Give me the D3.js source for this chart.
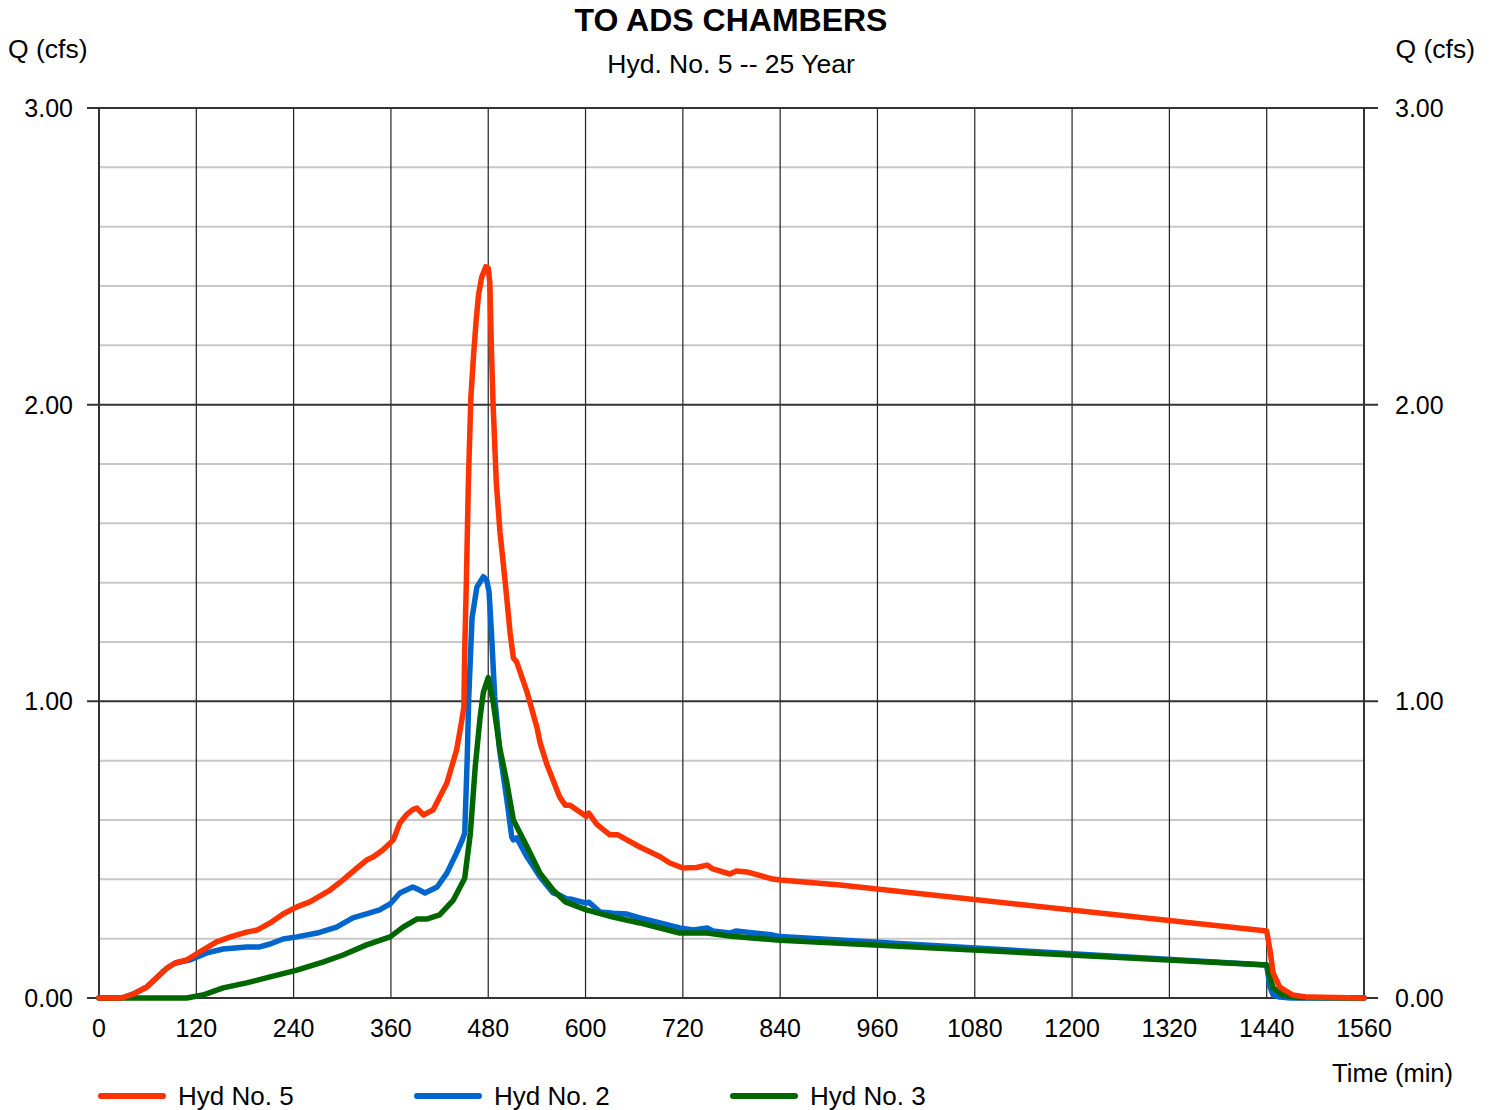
<!DOCTYPE html>
<html><head><meta charset="utf-8">
<script src="https://cdn.jsdelivr.net/npm/d3@7"></script>
<style>body{margin:0;background:#fff;font-family:"Liberation Sans",Arial,sans-serif;}</style>
</head><body>
<svg id="c" width="1491" height="1110"></svg>
<script>
const xTicks = [0,120,240,360,480,600,720,840,960,1080,1200,1320,1440,1560];
const yTicks = [0,1,2,3];
const yMinor = [0.2,0.4,0.6,0.8,1.2,1.4,1.6,1.8,2.2,2.4,2.6,2.8];
const seriesNames = ["Hyd No. 5","Hyd No. 2","Hyd No. 3"];
const seriesColors = ["#ff3300","#0066cc","#006600"];

const hyd5T = [0,28,42,59,72,84,94,108,124,145,162,182,195,211,227,244,260,285,301,318,330,338,350,363,371,380,387,392,400,412,429,441,447,450,451,453,455.5,458.5,462,465,468,472,477,480,482,484,486,490,494.5,501,507,511,515,528,540,544,552,568,575,581,601,604,614,630,640,667,692,704,720,737,750,757,778,786,799,831,840,914,1440,1444,1448,1456,1472,1490,1560];
const hyd5Q = [0,0,0.013,0.037,0.071,0.101,0.118,0.128,0.155,0.189,0.206,0.222,0.229,0.253,0.283,0.307,0.324,0.364,0.398,0.438,0.465,0.475,0.499,0.533,0.59,0.62,0.635,0.64,0.617,0.634,0.725,0.836,0.93,0.98,1.17,1.40,1.736,2.02,2.17,2.28,2.37,2.43,2.465,2.46,2.41,2.18,2.0,1.736,1.57,1.40,1.23,1.146,1.133,1.03,0.913,0.86,0.79,0.678,0.65,0.65,0.612,0.623,0.585,0.55,0.55,0.509,0.476,0.455,0.438,0.44,0.448,0.435,0.418,0.428,0.425,0.401,0.398,0.381,0.226,0.162,0.084,0.037,0.01,0.003,0];

const hyd2T = [0,28,42,59,72,84,94,112,133,153,182,198,211,227,244,269,293,313,334,346,359,371,387,393,402,417,429,441,448,451,454,456,460,466,474,478,481,484,488,494,503,509,511,515,528,544,560,568,577,581,601,604,618,634,651,667,692,716,733,750,757,778,786,799,831,840,1440,1444,1448,1456,1470,1480,1560];
const hyd2Q = [0,0,0.013,0.037,0.071,0.101,0.118,0.128,0.152,0.165,0.172,0.172,0.182,0.199,0.206,0.219,0.239,0.27,0.287,0.297,0.317,0.354,0.374,0.367,0.354,0.374,0.421,0.489,0.533,0.556,0.8,1.015,1.28,1.385,1.42,1.41,1.37,1.23,1.015,0.836,0.667,0.543,0.533,0.54,0.475,0.408,0.354,0.347,0.334,0.334,0.32,0.323,0.29,0.286,0.283,0.27,0.253,0.236,0.229,0.236,0.226,0.219,0.226,0.222,0.212,0.207,0.111,0.037,0.01,0.003,0,0,0];

const hyd3T = [0,108,128,153,182,211,244,276,301,330,359,375,392,404,420,437,451,458,464,470,474,480,486,494,503,511,528,544,560,575,601,634,667,692,716,750,780,840,1440,1444,1448,1460,1480,1560];
const hyd3Q = [0,0,0.01,0.034,0.051,0.071,0.094,0.121,0.145,0.179,0.206,0.239,0.266,0.266,0.28,0.33,0.404,0.556,0.78,0.947,1.03,1.08,1.0,0.846,0.725,0.6,0.509,0.42,0.364,0.324,0.297,0.273,0.253,0.236,0.219,0.219,0.208,0.195,0.111,0.07,0.034,0.01,0.002,0];

const svg = d3.select("#c");
const L=99,R=1364,T=108,B=998;
const x = d3.scaleLinear().domain([0,1560]).range([L,R]);
const y = d3.scaleLinear().domain([0,3]).range([B,T]);
const font = '"Liberation Sans",Arial,sans-serif';

// minor horizontal grid
svg.append("g").selectAll("line").data(yMinor).join("line")
  .attr("x1",L).attr("x2",R).attr("y1",d=>y(d)).attr("y2",d=>y(d))
  .attr("stroke","#c8c8c8").attr("stroke-width",2);
// vertical grid
svg.append("g").selectAll("line").data(xTicks.slice(1,-1)).join("line")
  .attr("x1",d=>x(d)).attr("x2",d=>x(d)).attr("y1",T).attr("y2",B)
  .attr("stroke","#222").attr("stroke-width",1.2);
// major horizontal
svg.append("g").selectAll("line").data(yTicks).join("line")
  .attr("x1",L-12).attr("x2",R+14).attr("y1",d=>y(d)).attr("y2",d=>y(d))
  .attr("stroke","#333").attr("stroke-width",2);
// side axes
svg.append("line").attr("x1",L).attr("x2",L).attr("y1",T).attr("y2",B).attr("stroke","#333").attr("stroke-width",2);
svg.append("line").attr("x1",R).attr("x2",R).attr("y1",T).attr("y2",B).attr("stroke","#333").attr("stroke-width",2);

// y labels
const yl = svg.append("g").attr("font-family",font).attr("font-size",25).attr("fill","#000");
yl.selectAll(".yl").data(yTicks).join("text").attr("x",73).attr("y",d=>y(d)+9)
  .attr("text-anchor","end").text(d3.format(".2f"));
yl.selectAll(".yr").data(yTicks).join("text").attr("x",1395).attr("y",d=>y(d)+9)
  .attr("text-anchor","start").text(d3.format(".2f"));
// x labels
yl.selectAll(".xl").data(xTicks).join("text").attr("x",d=>x(d)).attr("y",1037)
  .attr("text-anchor","middle").text(d=>d);

const series = [
  {t:hyd2T,q:hyd2Q,c:seriesColors[1]},
  {t:hyd3T,q:hyd3Q,c:seriesColors[2]},
  {t:hyd5T,q:hyd5Q,c:seriesColors[0]}
];
const line = d3.line().x(d=>x(d[0])).y(d=>y(d[1])).curve(d3.curveLinear);
series.forEach(s=>{
  svg.append("path").datum(s.t.map((t,i)=>[t,s.q[i]]))
    .attr("d",line).attr("fill","none").attr("stroke",s.c)
    .attr("stroke-width",5.5).attr("stroke-linejoin","round").attr("stroke-linecap","round");
});

// titles
svg.append("text").attr("x",731).attr("y",31).attr("text-anchor","middle")
  .attr("font-family",font).attr("font-size",32).attr("font-weight","bold").text("TO ADS CHAMBERS");
svg.append("text").attr("x",731).attr("y",73).attr("text-anchor","middle")
  .attr("font-family",font).attr("font-size",26.5).text("Hyd. No. 5 -- 25 Year");
svg.append("text").attr("x",8).attr("y",58).attr("font-family",font).attr("font-size",26.5).text("Q (cfs)");
svg.append("text").attr("x",1475).attr("y",58).attr("text-anchor","end").attr("font-family",font).attr("font-size",26.5).text("Q (cfs)");
svg.append("text").attr("x",1453).attr("y",1082).attr("text-anchor","end").attr("font-family",font).attr("font-size",25.5).text("Time (min)");

// legend
const lx = [99,415,731];
seriesNames.forEach((n,i)=>{
  svg.append("line").attr("x1",lx[i]+2).attr("x2",lx[i]+64).attr("y1",1096).attr("y2",1096)
    .attr("stroke",seriesColors[i]).attr("stroke-width",6).attr("stroke-linecap","round");
  svg.append("text").attr("x",lx[i]+79).attr("y",1105).attr("font-family",font).attr("font-size",26).text(n);
});
</script>
</body></html>
